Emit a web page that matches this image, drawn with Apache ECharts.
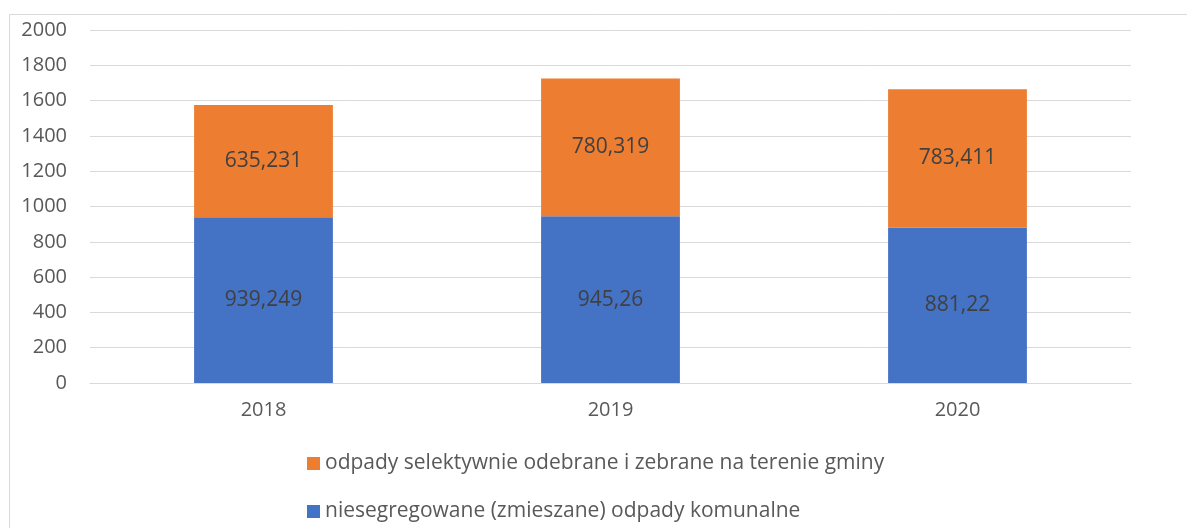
<!DOCTYPE html>
<html><head><meta charset="utf-8">
<script src="https://cdn.jsdelivr.net/npm/echarts@6/dist/echarts.min.js"></script>
<style>html,body{margin:0;padding:0;background:#fff}#c{width:1187px;height:528px}</style>
</head><body><div id="c"></div>
<script>
const categories = ['2018', '2019', '2020'];
const mixedName = 'niesegregowane (zmieszane) odpady komunalne';
const selectiveName = 'odpady selektywnie odebrane i zebrane na terenie gminy';
const mixedValues = [939.249, 945.26, 881.22];
const selectiveValues = [635.231, 780.319, 783.411];
const yTicks = [0, 200, 400, 600, 800, 1000, 1200, 1400, 1600, 1800, 2000];

const font = '"Open Sans", "Noto Sans", sans-serif';
const fmt = p => String(p.value).replace('.', ',');
const chart = echarts.init(document.getElementById('c'), null, {renderer: 'canvas'});
chart.setOption({
  animation: false,
  graphic: [{type: 'rect', shape: {x: 9.5, y: 14.5, width: 1200, height: 530}, style: {fill: 'none', stroke: '#d9d9d9', lineWidth: 1}, silent: true}],
  grid: {left: 90, right: 56, top: 30, bottom: 145, containLabel: false},
  legend: {
    orient: 'vertical', left: 302, top: 448, itemGap: 27,
    itemWidth: 13, itemHeight: 13, icon: 'rect',
    data: [selectiveName, mixedName],
    textStyle: {fontFamily: font, fontSize: 21, color: '#595959'}
  },
  xAxis: {
    type: 'category', data: categories,
    axisLine: {lineStyle: {color: '#d9d9d9', width: 1}},
    axisTick: {show: false},
    axisLabel: {fontFamily: font, fontSize: 20, color: '#595959', margin: 17}
  },
  yAxis: {
    type: 'value', min: yTicks[0], max: yTicks[yTicks.length - 1], interval: 200,
    axisLine: {show: false}, axisTick: {show: false},
    splitLine: {lineStyle: {color: '#d9d9d9', width: 1}},
    axisLabel: {fontFamily: font, fontSize: 20, color: '#595959', margin: 23, formatter: v => String(v)}
  },
  series: [
    {name: mixedName, type: 'bar', stack: 't', data: mixedValues, barWidth: '40%',
     itemStyle: {color: '#4472c4'},
     label: {show: true, position: 'inside', formatter: fmt, fontFamily: font, fontSize: 21, color: '#404040'}},
    {name: selectiveName, type: 'bar', stack: 't', data: selectiveValues, barWidth: '40%',
     itemStyle: {color: '#ed7d31'},
     label: {show: true, position: 'inside', formatter: fmt, fontFamily: font, fontSize: 21, color: '#404040'}}
  ]
});
</script></body></html>
